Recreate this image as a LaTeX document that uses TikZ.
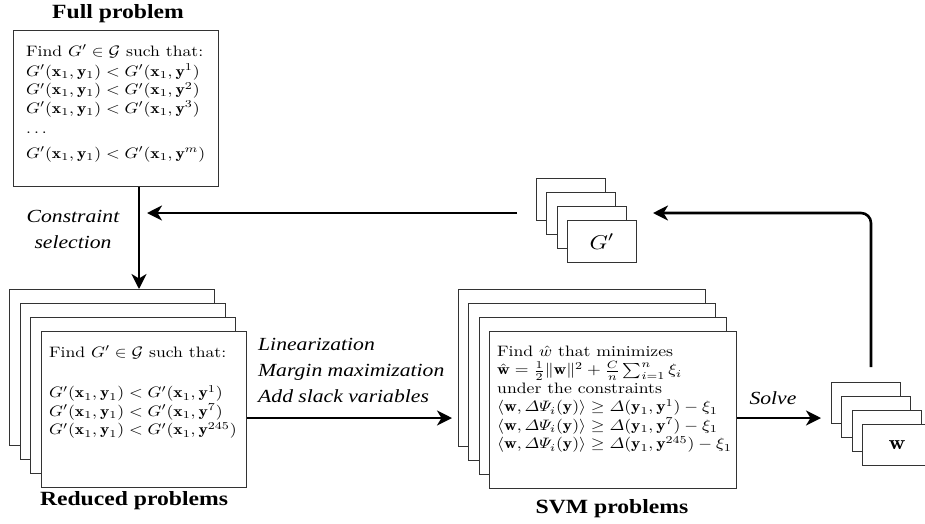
\documentclass[tikz,border=0pt]{standalone}
\usepackage{amsmath}
\usepackage{graphicx}
\usepackage{fontspec}
\usetikzlibrary{arrows.meta}
\newfontfamily\tms{Liberation Serif}
% Liberation labels, stretched sideways
\newcommand{\wide}[1]{\scalebox{1.17}[1]{#1}}
% box contents are set at 10pt and enlarged as a whole
\newcommand{\boxscale}[1]{\scalebox{1.767}[1.51]{#1}}
\newcommand{\bigscale}[1]{\scalebox{2.34}[2]{#1}}
\newcommand{\rowtxt}[1]{\smash{#1}}
\newcommand{\vx}{\mathbf{x}}
\newcommand{\vy}{\mathbf{y}}
\newcommand{\vw}{\mathbf{w}}
\newcommand{\cons}[1]{\rowtxt{$G'(\vx_1,\vy_1) < G'(\vx_1,\vy^{#1})$}}
\newcommand{\svmrow}[1]{\rowtxt{$\langle \vw, \varDelta\varPsi_i(\vy)\rangle \geq \varDelta(\vy_1,\vy^{#1}) - \xi_1$}}
\begin{document}
\begin{tikzpicture}[x=1pt,y=-1pt,
  card/.style={draw=black!80, line width=1pt, fill=white, inner sep=0pt, anchor=north west},
  bigcard/.style={card, minimum width=205, minimum height=156},
  svmcard/.style={card, minimum width=247, minimum height=157},
  smallcard/.style={card, minimum width=69, minimum height=42},
  boxtext/.style={inner sep=0pt, anchor=base west, font=\fontsize{10}{12}\selectfont},
  title/.style={inner sep=0pt, anchor=base, font=\tms\bfseries\fontsize{20.2}{24}\selectfont},
  lbl/.style={inner sep=0pt, anchor=base, font=\tms\itshape\fontsize{18.5}{26}\selectfont},
  arr/.style={line width=2.6pt, -{Stealth[length=15pt, width=15pt, inset=4.5pt]}}]
\useasboundingbox (0,0) rectangle (925,523);

% full problem
\node[title] (fulltitle) at (118,18) {\wide{Full problem}};
\node[card, minimum width=205, minimum height=156] (full) at (13,30) {};
\node[boxtext] (fulltxt) at (26,56) {\boxscale{\begin{tabular}[t]{@{}l@{}}
\rowtxt{Find $G'\in\mathcal{G}$ such that:}\\[1.25pt]
\cons{1}\\[0.25pt]
\cons{2}\\[0.25pt]
\cons{3}\\[1.6pt]
\rowtxt{$\ldots$}\\[4.2pt]
\cons{m}
\end{tabular}}};

% reduced problems
\node[bigcard] (r1) at (9,289) {};
\node[bigcard] (r2) at (19.7,303) {};
\node[bigcard] (r3) at (30.3,317) {};
\node[bigcard] (r4) at (41,331) {};
\node[boxtext] (redtxt) at (49,357) {\boxscale{\begin{tabular}[t]{@{}l@{}}
\rowtxt{Find $G'\in\mathcal{G}$ such that:}\\[15.1pt]
\cons{1}\\[0.25pt]
\cons{7}\\[0.25pt]
\cons{245}
\end{tabular}}};
\node[title] (redtitle) at (134,505) {\wide{Reduced problems}};

% SVM problems
\node[svmcard] (s1) at (458,289) {};
\node[svmcard] (s2) at (468.3,303) {};
\node[svmcard] (s3) at (478.6,317) {};
\node[svmcard] (s4) at (489,331) {};
\node[boxtext] (svmtxt) at (497,356) {\boxscale{\begin{tabular}[t]{@{}l@{}}
\rowtxt{Find $\hat{w}$ that minimizes}\\[0.5pt]
\rowtxt{$\hat{\vw} = \frac{1}{2}\|\vw\|^2 + \frac{C}{n}\sum_{i=1}^{n}\xi_i$}\\[0.25pt]
\rowtxt{under the constraints}\\[0.25pt]
\svmrow{1}\\[0.25pt]
\svmrow{7}\\[0.25pt]
\svmrow{245}
\end{tabular}}};
\node[title] (svmtitle) at (612,513) {\wide{SVM problems}};

% learned graphs G'
\node[smallcard] (g1) at (536,178) {};
\node[smallcard] (g2) at (546.3,192) {};
\node[smallcard] (g3) at (556.6,206) {};
\node[smallcard] (g4) at (567,220) {};
\node[inner sep=0pt, font=\fontsize{10}{12}\selectfont] (gtxt) at (g4.center) {\bigscale{$G'$}};

% weight vectors w
\node[smallcard, minimum height=41] (w1) at (831,382) {};
\node[smallcard, minimum height=41] (w2) at (841.3,396) {};
\node[smallcard, minimum height=41] (w3) at (851.6,410) {};
\node[smallcard, minimum height=41] (w4) at (862,424) {};
\node[inner sep=0pt, font=\fontsize{10}{12}\selectfont] (wtxt) at (w4.center) {\bigscale{$\mathbf{w}$}};

% connectors
\coordinate (selX) at (139,0);
\coordinate (linY) at (0,418);
\coordinate (fbStart) at (517,213);
\coordinate (fbEnd) at (147,213);
\coordinate (wTop) at (871,367);
\coordinate (gIn) at (653,213);

\draw[arr] (full.south -| selX) -- (r1.north -| selX);
\draw[arr] (fbStart) -- (fbEnd);
\draw[arr, rounded corners=10pt] (wTop) |- (gIn);
\draw[arr] (r4.east |- linY) -- ([xshift=-6pt]s1.west |- linY);
\draw[arr] (s4.east |- linY) -- ([xshift=-10pt]w1.west |- linY);

% connector labels
\node[lbl] (sel) at (73,222) {\wide{\begin{tabular}[t]{@{}c@{}}Constraint\\selection\end{tabular}}};
\node[lbl, anchor=base west] (lin) at (258,350) {\wide{\begin{tabular}[t]{@{}l@{}}Linearization\\Margin maximization\\Add slack variables\end{tabular}}};
\node[lbl] (solve) at (773,404) {\wide{Solve}};
\end{tikzpicture}
\end{document}
